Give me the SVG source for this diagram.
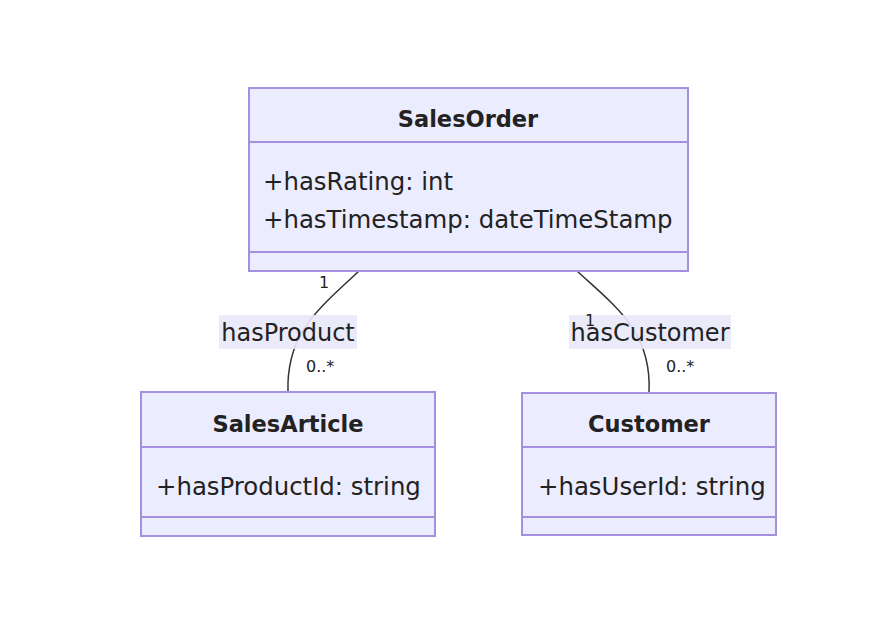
<svg xmlns="http://www.w3.org/2000/svg" width="894" height="618" viewBox="0 0 894 618">
<style>
.box{fill:#ECECFF;stroke:#A590E0;stroke-width:2}
.div{stroke:#A590E0;stroke-width:2}
.t{font-family:"DejaVu Sans",sans-serif;fill:#222}
.title{font-size:22.5px;font-weight:bold;text-anchor:middle}
.attr{font-size:24.4px}
.edge{fill:none;stroke:#333;stroke-width:1.5}
.lbg{fill:#E8E8F8;opacity:0.9}
.lbl{font-size:24px;text-anchor:middle}
.card{font-size:16px}
</style>
<rect width="894" height="618" fill="#fff"/>
<g id="connectors">
<path class="edge" d="M359,271 C320,308 286,332 288,392"/>
<path class="edge" d="M577,271 C615,306 652,332 649,392"/>
<rect class="lbg" x="219" y="315" width="138" height="34"/>
<text class="t lbl" x="288" y="341">hasProduct</text>
<rect class="lbg" x="569" y="315" width="162" height="34"/>
<text class="t lbl" x="650" y="341">hasCustomer</text>
<text class="t card" x="319" y="288">1</text>
<text class="t card" x="306" y="372">0..*</text>
<text class="t card" x="585" y="326">1</text>
<text class="t card" x="666" y="372">0..*</text>
</g>
<g id="SalesOrder">
<rect class="box" x="249" y="88" width="439" height="183"/>
<line class="div" x1="249" y1="142" x2="688" y2="142"/>
<line class="div" x1="249" y1="252" x2="688" y2="252"/>
<text class="t title" x="468" y="127">SalesOrder</text>
<text class="t attr" x="263" y="190">+hasRating: int</text>
<text class="t attr" x="263" y="228">+hasTimestamp: dateTimeStamp</text>
</g>
<g id="SalesArticle">
<rect class="box" x="141" y="392" width="294" height="144"/>
<line class="div" x1="141" y1="447" x2="435" y2="447"/>
<line class="div" x1="141" y1="517" x2="435" y2="517"/>
<text class="t title" x="288" y="432">SalesArticle</text>
<text class="t attr" x="156" y="495">+hasProductId: string</text>
</g>
<g id="Customer">
<rect class="box" x="522" y="393" width="254" height="142"/>
<line class="div" x1="522" y1="447" x2="776" y2="447"/>
<line class="div" x1="522" y1="517" x2="776" y2="517"/>
<text class="t title" x="649" y="432">Customer</text>
<text class="t attr" x="538" y="495">+hasUserId: string</text>
</g>
</svg>
